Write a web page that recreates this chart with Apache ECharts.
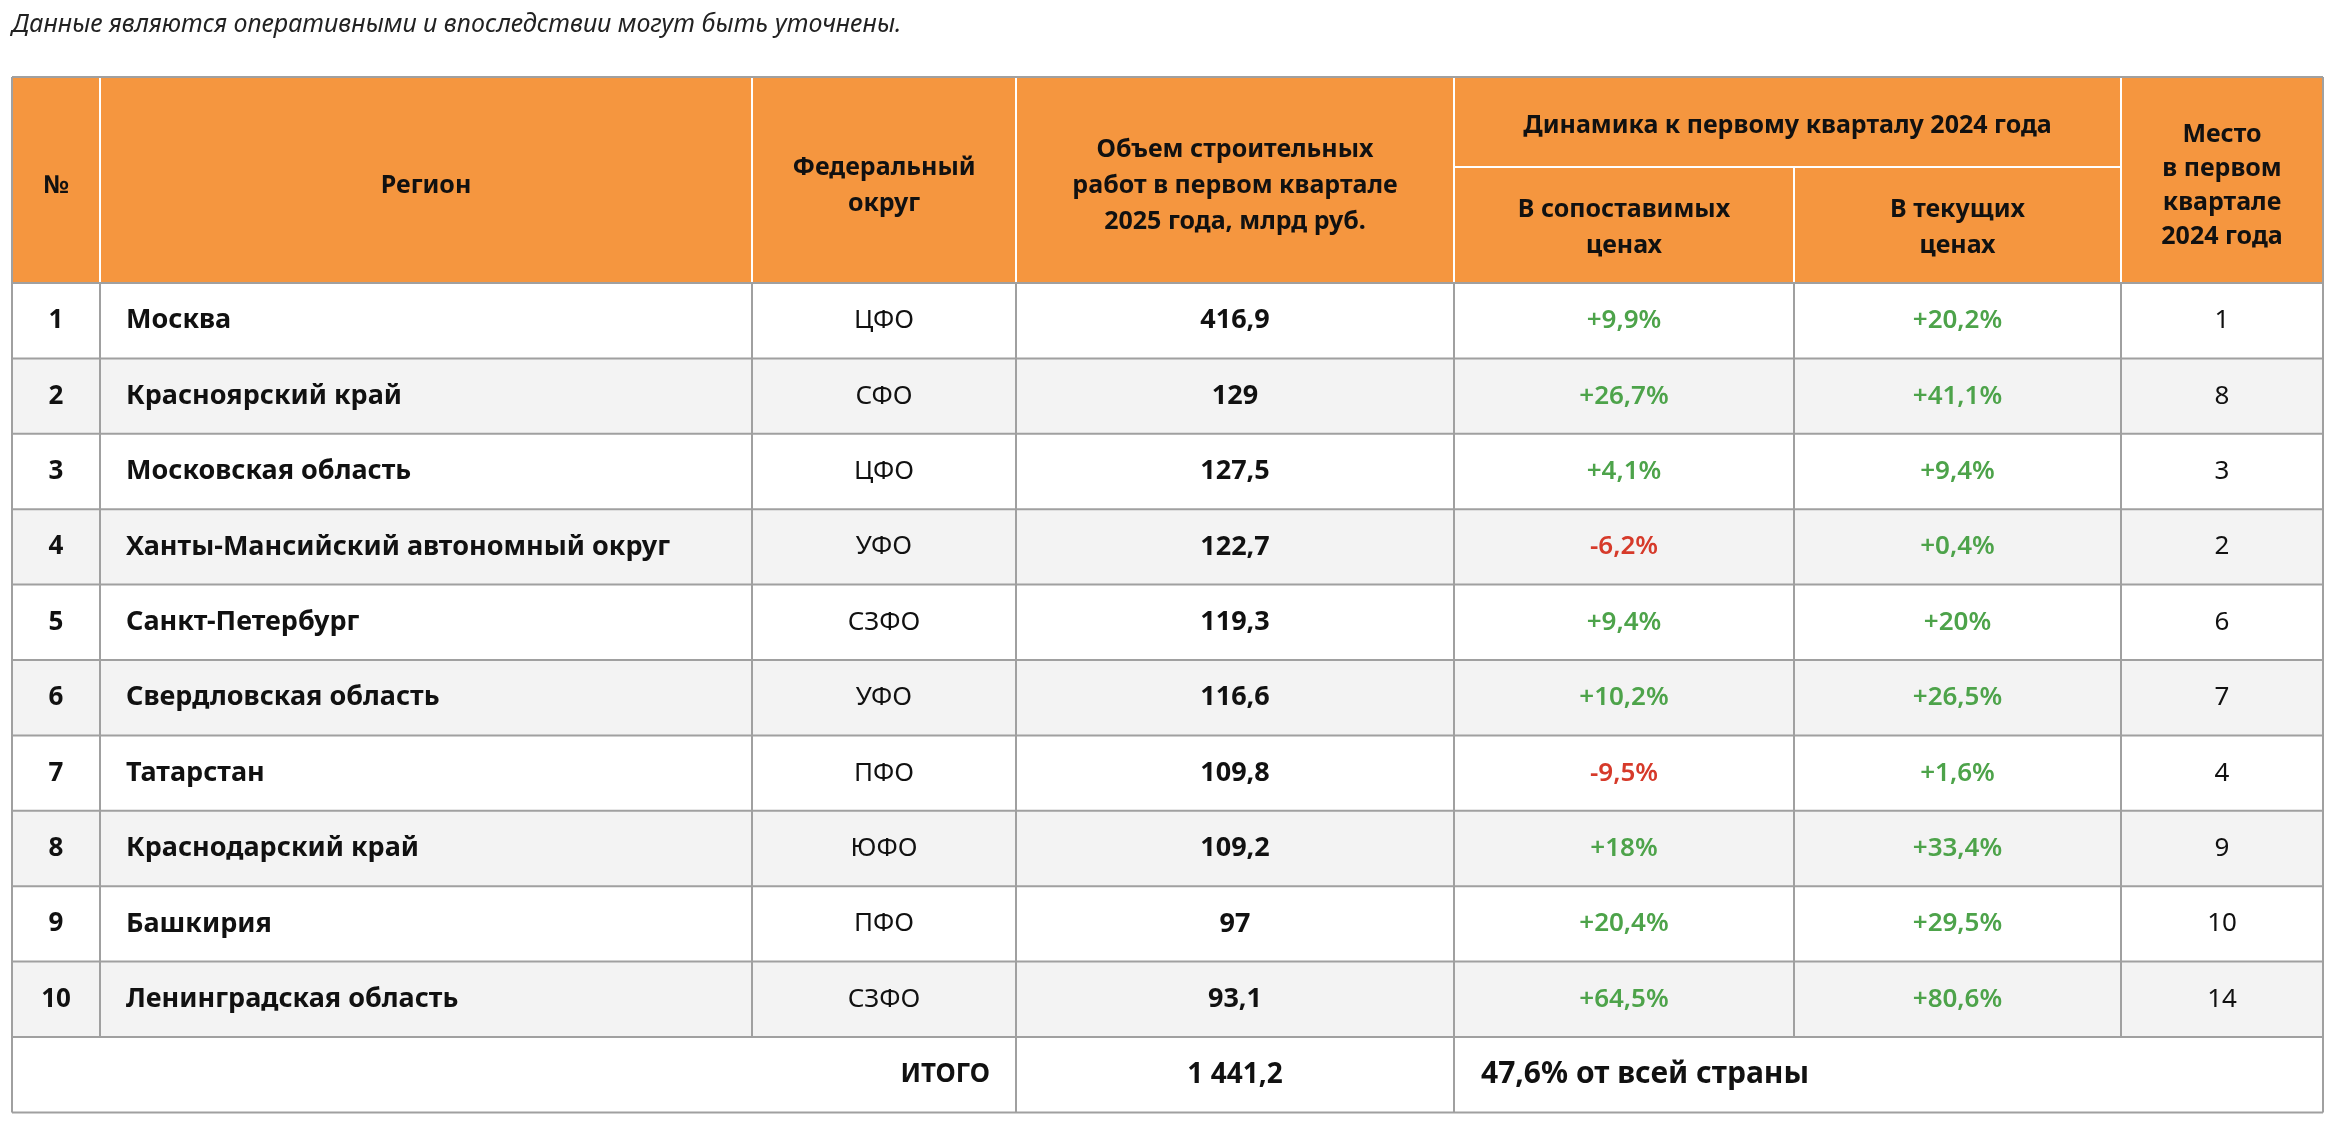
<!DOCTYPE html>
<html><head><meta charset="utf-8">
<script src="https://cdn.jsdelivr.net/npm/echarts@6/dist/echarts.min.js"></script>
<style>html,body{margin:0;padding:0;background:#fff}#c{width:2332px;height:1126px}</style>
</head><body><div id="c"></div>
<script>
const ranks = ['1','2','3','4','5','6','7','8','9','10'];
const regions = ['Москва','Красноярский край','Московская область','Ханты-Мансийский автономный округ','Санкт-Петербург','Свердловская область','Татарстан','Краснодарский край','Башкирия','Ленинградская область'];
const districts = ['ЦФО','СФО','ЦФО','УФО','СЗФО','УФО','ПФО','ЮФО','ПФО','СЗФО'];
const volumes = ['416,9','129','127,5','122,7','119,3','116,6','109,8','109,2','97','93,1'];
const dynComparable = ['+9,9%','+26,7%','+4,1%','-6,2%','+9,4%','+10,2%','-9,5%','+18%','+20,4%','+64,5%'];
const dynCurrent = ['+20,2%','+41,1%','+9,4%','+0,4%','+20%','+26,5%','+1,6%','+33,4%','+29,5%','+80,6%'];
const place2024 = ['1','8','3','2','6','7','4','9','10','14'];
const headers = ['№','Регион','Федеральный\nокруг','Объем строительных\nработ в первом квартале\n2025 года, млрд руб.','Динамика к первому кварталу 2024 года','В сопоставимых\nценах','В текущих\nценах','Место\nв первом\nквартале\n2024 года'];
const totalLabel = 'ИТОГО', totalValue = '1 441,2', totalShare = '47,6% от всей страны';
const note = 'Данные являются оперативными и впоследствии могут быть уточнены.';

(function(){
const X = [12,100,752,1016,1454,1794,2121,2323];
const tY = 77, hMid = 167, hBot = 283, rowH = 75.4;
const FONT = '"Noto Sans", sans-serif';
const G = [];
const rect = (x,y,w,h,fill)=>G.push({type:'rect',shape:{x,y,width:w,height:h},style:{fill},silent:true});
const line = (x1,y1,x2,y2,c,w)=>G.push({type:'line',shape:{x1,y1,x2,y2},style:{stroke:c,lineWidth:w||2},silent:true});
const text = (x,y,t,o)=>G.push({type:'text',x,y,style:Object.assign({text:t,font:'26px '+FONT,fill:'#111',align:'center',verticalAlign:'middle'},o||{}),silent:true});

text(12,25,note,{align:'left',font:'italic 25px '+FONT,fill:'#222'});
rect(X[0],tY,X[7]-X[0],hBot-tY,'#f5963f');
[1,2,3,4,6].forEach(i=>line(X[i],tY,X[i],hBot,'#fff',2));
line(X[5],hMid,X[5],hBot,'#fff',2);
line(X[4],hMid,X[6],hMid,'#fff',2);
const hf = 'bold 25px '+FONT;
const cx = i=>(X[i]+X[i+1])/2;
text(cx(0),186,headers[0],{font:hf});
text(cx(1),186,headers[1],{font:hf});
text(cx(2),186,headers[2],{font:hf,lineHeight:36});
text(cx(3),186,headers[3],{font:hf,lineHeight:36});
text((X[4]+X[6])/2,126,headers[4],{font:hf});
text(cx(4),228,headers[5],{font:hf,lineHeight:36});
text(cx(5),228,headers[6],{font:hf,lineHeight:36});
text(cx(6),186,headers[7],{font:hf,lineHeight:34});
regions.forEach((r,k)=>{
  const y = hBot + k*rowH, ym = y + rowH/2;
  if(k%2===1) rect(X[0],y,X[7]-X[0],rowH,'#f3f3f3');
  text(cx(0),ym,ranks[k],{font:'bold 26px '+FONT});
  text(126,ym,r,{align:'left',font:'bold 27px '+FONT});
  text(cx(2),ym,districts[k],{font:'26px '+FONT});
  text(cx(3),ym,volumes[k],{font:'bold 27px '+FONT});
  const c1 = dynComparable[k][0]==='-'?'#d63a2a':'#4da34a';
  const c2 = dynCurrent[k][0]==='-'?'#d63a2a':'#4da34a';
  text(cx(4),ym,dynComparable[k],{font:'600 26px '+FONT,fill:c1});
  text(cx(5),ym,dynCurrent[k],{font:'600 26px '+FONT,fill:c2});
  text(cx(6),ym,place2024[k],{font:'26px '+FONT});
});
const tTop = hBot + 10*rowH, tBot = tTop + rowH;
for(let k=0;k<=11;k++){ const y=hBot+k*rowH; line(X[0],y,X[7],y,'#a0a0a0',2); }
line(X[0],tY,X[7],tY,'#a0a0a0',2);
[0,7].forEach(i=>line(X[i],tY,X[i],tBot,'#a0a0a0',2));
[1,2,3,4,5,6].forEach(i=>line(X[i],hBot,X[i],tTop,'#a0a0a0',2));
[3,4].forEach(i=>line(X[i],tTop,X[i],tBot,'#a0a0a0',2));
const tm = (tTop+tBot)/2;
text(990,tm,totalLabel,{align:'right',font:'bold 26px '+FONT});
text(cx(3),tm,totalValue,{font:'bold 28px '+FONT});
text(1481,tm,totalShare,{align:'left',font:'bold 30px '+FONT});

const ch = echarts.init(document.getElementById('c'));
ch.setOption({animation:false,graphic:{elements:G}});
})();
</script></body></html>
